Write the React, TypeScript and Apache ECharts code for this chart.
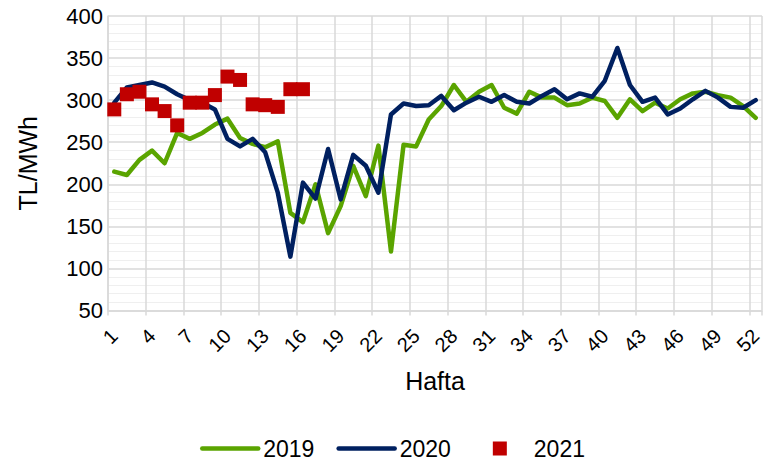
import React, { useEffect, useRef } from 'react';
import * as echarts from 'echarts';

const weeks: string[] = Array.from({ length: 52 }, (_, i) => String(i + 1));

const y2019: number[] = [
  215, 211, 229, 240, 225, 261, 254, 261, 271, 278,
  255, 248, 244, 251, 166, 155, 200, 142, 174, 222,
  186, 246, 120, 247, 245, 277, 293, 318, 298, 310,
  318, 291, 284, 310, 303, 303, 294, 296, 303, 299,
  279, 301, 287, 297, 290, 301, 308, 310, 306, 303,
  293, 279,
];

const y2020: number[] = [
  297, 315, 318, 321, 316, 307, 300, 297, 289, 254,
  245, 254, 238, 190, 114, 202, 183, 242, 182, 235,
  222, 190, 283, 296, 293, 294, 305, 288, 297, 304,
  298, 306, 298, 296, 305, 313, 301, 308, 304, 323,
  362, 318, 298, 303, 283, 290, 301, 311, 303, 292,
  291, 300,
];

const y2021: number[] = [
  289, 307, 310, 295, 287, 270, 297, 297, 306, 328,
  324, 295, 294, 292, 313, 313,
];

const seriesNames: string[] = ['2019', '2020', '2021'];
const yMin = 50;
const yMax = 400;
const yStep = 50;

const FONT = 'Liberation Sans, Arial, sans-serif';
const GRID = '#d9d9d9';
const GREEN = '#5aa400';
const NAVY = '#002060';
const RED = '#c00000';

// square centred in a 56x14 box (tiny corner dots fix the box size)
const SQUARE_ICON = 'path://M0,0h0.01v0.01h-0.01z M56,14h-0.01v-0.01h0.01z M20,0h14v14h-14z';

export default function App() {
  const ref = useRef<HTMLDivElement>(null);

  useEffect(() => {
    document.body.style.margin = '0';
    const chart = echarts.init(ref.current as HTMLDivElement, null, { renderer: 'svg' });
    chart.setOption({
      animation: false,
      backgroundColor: '#ffffff',
      textStyle: { fontFamily: FONT, color: '#000' },
      grid: { left: 108, right: 16, top: 16, bottom: 162.5 },
      legend: {
        top: 437,
        left: 200,
        padding: 0,
        itemWidth: 56,
        itemHeight: 14,
        itemGap: 22,
        symbolKeepAspect: true,
        textStyle: { fontSize: 23, color: '#000', fontFamily: FONT },
        lineStyle: { width: 4.5, cap: 'round' },
        data: [
          { name: seriesNames[0], itemStyle: { opacity: 0 } },
          { name: seriesNames[1], itemStyle: { opacity: 0 } },
          { name: seriesNames[2], icon: SQUARE_ICON, itemStyle: { color: RED, opacity: 1 } },
        ],
      },
      xAxis: {
        type: 'category',
        data: weeks,
        boundaryGap: true,
        name: 'Hafta',
        nameLocation: 'middle',
        nameGap: 58,
        nameTextStyle: { fontSize: 25, color: '#000', fontFamily: FONT },
        axisLine: { show: true, lineStyle: { color: GRID, width: 1.5 } },
        axisTick: { show: true, interval: 2, length: 5, lineStyle: { color: GRID, width: 1.5 } },
        axisLabel: { interval: 2, rotate: 45, fontSize: 20, color: '#000', margin: 22, fontFamily: FONT },
        splitLine: { show: true, interval: 2, lineStyle: { color: GRID, width: 1.5 } },
      },
      yAxis: {
        type: 'value',
        min: yMin,
        max: yMax,
        interval: yStep,
        name: 'TL/MWh',
        nameLocation: 'middle',
        nameGap: 68,
        nameRotate: 90,
        nameTextStyle: { fontSize: 25, color: '#000', fontFamily: FONT },
        axisLine: { show: true, lineStyle: { color: GRID, width: 1.5 } },
        axisTick: { show: false },
        axisLabel: { fontSize: 22, margin: 5, color: '#000', fontFamily: FONT },
        splitLine: { show: true, lineStyle: { color: GRID, width: 1.5 } },
        minorTick: { show: false, splitNumber: 5 },
        minorSplitLine: { show: true, lineStyle: { color: '#efefef', width: 1 } },
      },
      series: [
        {
          name: seriesNames[0],
          type: 'line',
          data: y2019,
          symbol: 'none',
          color: GREEN,
          lineStyle: { width: 4.5, color: GREEN, cap: 'round', join: 'round' },
          z: 2,
        },
        {
          name: seriesNames[1],
          type: 'line',
          data: y2020,
          symbol: 'none',
          color: NAVY,
          lineStyle: { width: 4.5, color: NAVY, cap: 'round', join: 'round' },
          z: 3,
        },
        {
          name: seriesNames[2],
          type: 'scatter',
          data: y2021,
          symbol: 'rect',
          symbolSize: 14,
          color: RED,
          itemStyle: { color: RED, opacity: 1 },
          z: 4,
        },
      ],
    });
    return () => chart.dispose();
  }, []);

  return (
    <div
      ref={ref}
      style={{ position: 'absolute', left: 0, top: 0, width: 778, height: 473 }}
    />
  );
}
